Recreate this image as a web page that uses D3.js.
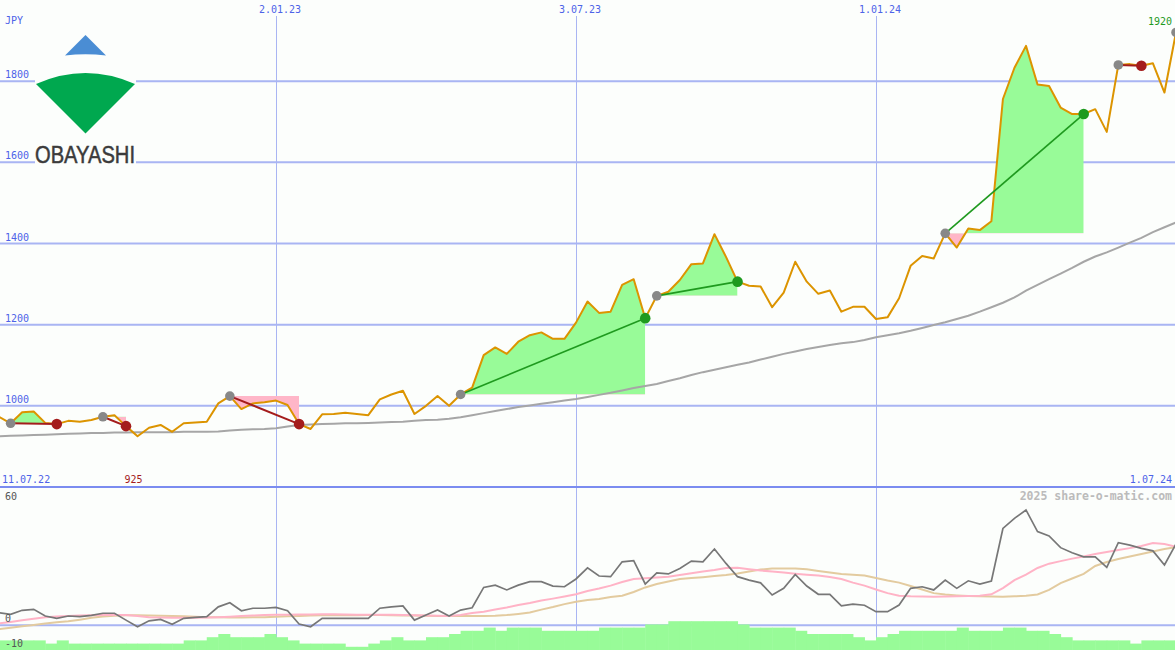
<!DOCTYPE html>
<html><head><meta charset="utf-8">
<script src="https://cdn.jsdelivr.net/npm/d3@7"></script>
<style>html,body{margin:0;padding:0;background:#fcfefc;overflow:hidden}svg{display:block}</style>
</head><body><svg id="c" width="1175" height="650"></svg>
<script>
// ---- data ----
const startDate = "2022-07-18", endDate = "2024-07-01";
const gridDates = ["2023-01-02", "2023-07-03", "2024-01-01"];
const gridLabels = ["2.01.23", "3.07.23", "1.01.24"];
const priceTicks = [1000, 1200, 1400, 1600, 1800];
const lowerTicks = [60, 0, -10];
const price = [973,957,984,986,958,955,963,961,965,973,
 977,950,925,946,953,936,957,959,961,1006,
 1024,992,1006,1009,1013,1002,955,943,979,980,
 983,980,977,1016,1028,1037,980,1000,1024,1000,
 1028,1045,1125,1144,1128,1158,1174,1181,1165,1165,
 1205,1257,1229,1232,1298,1312,1216,1271,1281,1310,
 1349,1351,1423,1367,1306,1296,1294,1243,1279,1355,
 1306,1276,1284,1232,1244,1244,1214,1218,1265,1345,
 1369,1363,1425,1390,1437,1433,1455,1756,1833,1887,
 1792,1788,1735,1719,1719,1731,1675,1840,1842,1838,
 1844,1772,1920];
const movingAvg = [925,926,927,928,929,930,931,932,933,933,
 934,934,935,935,935,935,936,936,936,937,
 939,941,942,943,945,949,953,954,955,956,
 957,957,958,959,960,961,963,965,966,968,
 972,977,982,987,992,997,1001,1005,1009,1013,
 1017,1022,1027,1032,1038,1044,1049,1054,1061,1068,
 1076,1083,1089,1095,1101,1107,1114,1121,1128,1134,
 1140,1145,1150,1154,1157,1162,1169,1174,1179,1185,
 1192,1199,1206,1214,1222,1232,1243,1254,1267,1284,
 1298,1312,1326,1340,1355,1368,1378,1390,1402,1414,
 1428,1440,1452];
const momentum = [5.4,4.7,6.5,6.9,4.0,3.0,4.0,3.7,4.3,5.2,
 5.2,2.2,-0.7,1.9,2.5,0.4,3.0,3.4,3.7,8.0,
 9.8,6.3,7.4,7.4,7.8,6.3,0.5,-0.7,3.0,3.0,
 3.0,3.0,3.0,7.4,8.0,8.4,2.2,4.4,6.6,4.0,
 6.6,7.6,16.5,17.5,15.4,17.5,19.0,19.0,17.1,16.8,
 20.2,25.1,21.5,21.2,27.7,28.2,18.0,22.9,22.4,24.8,
 28.0,27.7,33.3,27.0,21.2,19.7,18.5,13.2,16.1,22.2,
 17.1,13.5,13.5,8.4,9.2,8.7,5.9,5.9,8.8,16.1,
 16.8,15.4,19.7,16.1,19.4,18.0,19.3,42.3,46.7,50.4,
 40.9,39.0,33.9,31.7,29.9,29.9,25.3,36.1,35.0,33.6,
 32.5,26.3,35.5];
const signalFast = [0.8,1.4,2.1,2.8,3.5,3.8,4.0,4.2,4.3,4.4,
 4.4,4.4,4.0,3.5,3.3,3.2,3.2,3.2,3.3,3.5,
 3.7,4.0,4.2,4.4,4.5,4.6,4.7,4.7,4.8,4.8,
 4.7,4.6,4.6,4.5,4.5,4.4,4.3,4.2,4.1,4.0,
 4.4,5.3,5.9,6.8,7.7,8.8,9.7,10.8,11.6,12.5,
 13.5,14.9,16.0,17.3,18.9,20.2,20.5,20.8,21.2,21.9,
 22.7,23.5,24.1,25.0,25.1,24.5,23.9,23.5,23.0,22.5,
 22.1,21.7,21.1,20.2,18.6,17.3,15.6,14.0,12.9,12.6,
 12.5,12.4,12.5,12.6,12.7,12.9,13.5,16.2,19.7,22.1,
 25.0,26.9,28.0,29.1,30.0,31.1,32.0,32.9,33.7,34.6,
 35.9,35.5,34.3];
const signalSlow = [-1.7,-1.1,-0.5,0.1,0.7,1.3,1.7,2.4,3.2,3.8,
 4.1,4.3,4.3,4.2,4.1,4.0,3.9,3.7,3.5,3.4,
 3.3,3.3,3.5,3.5,3.7,3.9,4.0,4.2,4.3,4.4,
 4.3,4.3,4.4,4.4,4.3,4.2,4.2,4.1,4.0,4.0,
 4.0,4.0,4.0,4.1,4.4,4.9,5.5,6.8,7.9,9.2,
 10.2,11.0,11.4,12.3,12.9,14.5,16.5,18.0,19.1,20.2,
 20.6,21.0,21.5,21.9,22.6,23.5,24.3,24.8,24.8,24.8,
 24.5,23.7,23.0,22.4,22.1,21.7,20.6,19.5,18.6,17.1,
 15.6,14.0,13.4,13.0,12.7,12.6,12.5,12.4,12.6,12.9,
 13.4,15.4,18.4,20.4,22.4,25.9,27.6,28.9,30.0,31.1,
 32.2,33.3,34.2];
const volumeLevel = [3,3,3,3,2,3,2,2,2,2,
 2,2,2,2,2,2,3,3,4,5,
 4,4,4,5,4,3,2,2,2,2,
 1,1,2,3,4,3,3,4,4,5,
 6,6,7,6,7,7,7,6,6,6,
 6,6,7,7,7,7,8,8,9,9,
 9,9,9,9,8,7,7,7,7,6,
 5,5,5,5,4,3,4,5,6,6,
 6,6,6,7,6,6,6,7,7,6,
 6,5,4,3,3,3,3,3,2,3,
 3,3,3];
const entryIdx = [1, 9, 20, 40, 57, 82, 97, 102];
const exitIdx  = [5, 11, 26, 56, 64, 94, 99, null];

// ---- setup ----
const parse = d3.utcParse("%Y-%m-%d");
const dates = d3.utcMonday.range(parse(startDate), d3.utcDay.offset(parse(endDate), 1));
const svg = d3.select("#c");
const W = 1175, H = 650;
const x = d3.scaleUtc().domain([parse(gridDates[0]), parse(gridDates[2])]).range([276, 876]);
const y = d3.scaleLinear().domain([800, 2000]).range([487, 0]);
const yL = d3.scaleLinear().domain([-10, 60]).range([648, 488]);
const yV = d3.scaleLinear().domain([0, 10]).range([650, 618]);
const xi = i => x(dates[i]);

const BLUE_GRID = "#a9b5f3", BLUE_TXT = "#4d63e8";
const GREEN_FILL = "#98fb98", PINK_FILL = "#ffb6c8";
const WIN = "#1f9a1f", LOSS = "#a41c1c";
const mono = "'DejaVu Sans Mono', monospace";

svg.append("rect").attr("width", W).attr("height", H).attr("fill", "#fcfefc");

// vertical grid
svg.append("g").selectAll("line").data(gridDates).join("line")
  .attr("x1", d => Math.round(x(parse(d))) + 0.5).attr("x2", d => Math.round(x(parse(d))) + 0.5)
  .attr("y1", 16).attr("y2", H).attr("stroke", BLUE_GRID).attr("stroke-width", 1);
// horizontal price grid
svg.append("g").selectAll("line").data(priceTicks).join("line")
  .attr("x1", 0).attr("x2", W).attr("y1", d => y(d)).attr("y2", d => y(d))
  .attr("stroke", BLUE_GRID).attr("stroke-width", 2);
// panel separator
svg.append("line").attr("x1", 0).attr("x2", W).attr("y1", 487).attr("y2", 487)
  .attr("stroke", "#7b8cf0").attr("stroke-width", 2);
// lower zero line
svg.append("line").attr("x1", 0).attr("x2", W).attr("y1", yL(0)).attr("y2", yL(0))
  .attr("stroke", BLUE_GRID).attr("stroke-width", 2);

// volume-like histogram
svg.append("g").selectAll("rect").data(volumeLevel).join("rect")
  .attr("x", (d, i) => xi(i))
  .attr("width", (d, i) => x(d3.utcDay.offset(dates[i], 7)) - xi(i) + 0.5)
  .attr("y", d => yV(d)).attr("height", d => yV(0) - yV(d))
  .attr("fill", GREEN_FILL);

// trade fills
const defs = svg.append("defs");
entryIdx.forEach((e, k) => {
  const ex = exitIdx[k];
  if (ex == null) return;
  const ye = y(price[e]);
  const idx = d3.range(e, ex + 1);
  const area = d3.area().x(i => xi(i)).y0(ye).y1(i => y(price[i]));
  defs.append("clipPath").attr("id", "up" + k).append("rect")
    .attr("x", xi(e)).attr("width", xi(ex) - xi(e)).attr("y", 0).attr("height", ye);
  defs.append("clipPath").attr("id", "dn" + k).append("rect")
    .attr("x", xi(e)).attr("width", xi(ex) - xi(e)).attr("y", ye).attr("height", 487 - ye);
  svg.append("path").attr("d", area(idx)).attr("fill", GREEN_FILL).attr("clip-path", `url(#up${k})`);
  svg.append("path").attr("d", area(idx)).attr("fill", PINK_FILL).attr("clip-path", `url(#dn${k})`);
});

// moving average & price
const lineMain = arr => d3.line().x((d, i) => xi(i)).y(d => y(d))(arr);
svg.append("path").attr("d", lineMain(movingAvg)).attr("fill", "none")
  .attr("stroke", "#a6a6a6").attr("stroke-width", 2);
svg.append("path").attr("d", lineMain(price)).attr("fill", "none")
  .attr("stroke", "#dc9400").attr("stroke-width", 2).attr("stroke-linejoin", "round");

// trade lines & markers
entryIdx.forEach((e, k) => {
  const ex = exitIdx[k];
  if (ex == null) return;
  const win = price[ex] > price[e];
  svg.append("line").attr("x1", xi(e)).attr("y1", y(price[e])).attr("x2", xi(ex)).attr("y2", y(price[ex]))
    .attr("stroke", win ? WIN : LOSS).attr("stroke-width", win ? 1.6 : 2);
});
entryIdx.forEach((e, k) => {
  const ex = exitIdx[k];
  svg.append("circle").attr("cx", xi(e)).attr("cy", y(price[e])).attr("r", 4.8).attr("fill", "#888888");
  if (ex == null) return;
  const win = price[ex] > price[e];
  svg.append("circle").attr("cx", xi(ex)).attr("cy", y(price[ex])).attr("r", 5.3).attr("fill", win ? WIN : LOSS);
});

// lower panel lines
const lineLow = arr => d3.line().x((d, i) => xi(i)).y(d => yL(d))(arr);
svg.append("path").attr("d", lineLow(signalSlow)).attr("fill", "none").attr("stroke", "#e3cb9f").attr("stroke-width", 2);
svg.append("path").attr("d", lineLow(signalFast)).attr("fill", "none").attr("stroke", "#ffb3c6").attr("stroke-width", 2);
svg.append("path").attr("d", lineLow(momentum)).attr("fill", "none").attr("stroke", "#777777").attr("stroke-width", 1.7);

// ---- labels ----
const txt = (s, tx, ty, col, anchor = "start", size = 10, weight = "normal") =>
  svg.append("text").attr("x", tx).attr("y", ty).attr("fill", col).attr("text-anchor", anchor)
    .attr("font-family", mono).attr("font-size", size).attr("font-weight", weight).text(s);

txt("JPY", 5, 24, BLUE_TXT);
priceTicks.forEach(v => txt(String(v), 5, y(v) - 3, BLUE_TXT));
gridDates.forEach((d, k) => txt(gridLabels[k], x(parse(d)) + 4, 13, BLUE_TXT, "middle"));
txt("11.07.22", 2, 483, BLUE_TXT);
txt("1.07.24", 1172, 483, BLUE_TXT, "end");
const minI = d3.minIndex(price), maxI = d3.maxIndex(price);
txt(String(price[minI]), xi(minI) - 4, 483, LOSS, "middle");
txt(String(price[maxI]), 1172, 25, WIN, "end");
txt("2025 share-o-matic.com", 1172, 500, "#bbbbbb", "end", 11.5, "bold");
txt(String(lowerTicks[0]), 5, 500, "#555555");
txt(String(lowerTicks[1]), 5, 622, "#555555");
txt(String(lowerTicks[2]), 5, 647, "#555555");

// ---- logo ----
const logo = svg.append("g");
logo.append("rect").attr("x", 35).attr("y", 30).attr("width", 101).attr("height", 135).attr("fill", "#fcfefc");
logo.append("path").attr("d", "M65,55.5 L85.5,35 L106,55.5 Q85.5,53 65,55.5 Z").attr("fill", "#4a8dd4");
logo.append("path").attr("d", "M36,84 Q85.5,62 135,84 L85.5,133.5 Z").attr("fill", "#00a84f");
logo.append("text").attr("x", 35).attr("y", 163).attr("font-family", "'Liberation Sans', Arial, sans-serif")
  .attr("font-size", 23.5).attr("fill", "#3b3b3b").attr("stroke", "#3b3b3b").attr("stroke-width", 0.5)
  .attr("textLength", 100).attr("lengthAdjust", "spacingAndGlyphs")
  .text("OBAYASHI");
</script></body></html>
